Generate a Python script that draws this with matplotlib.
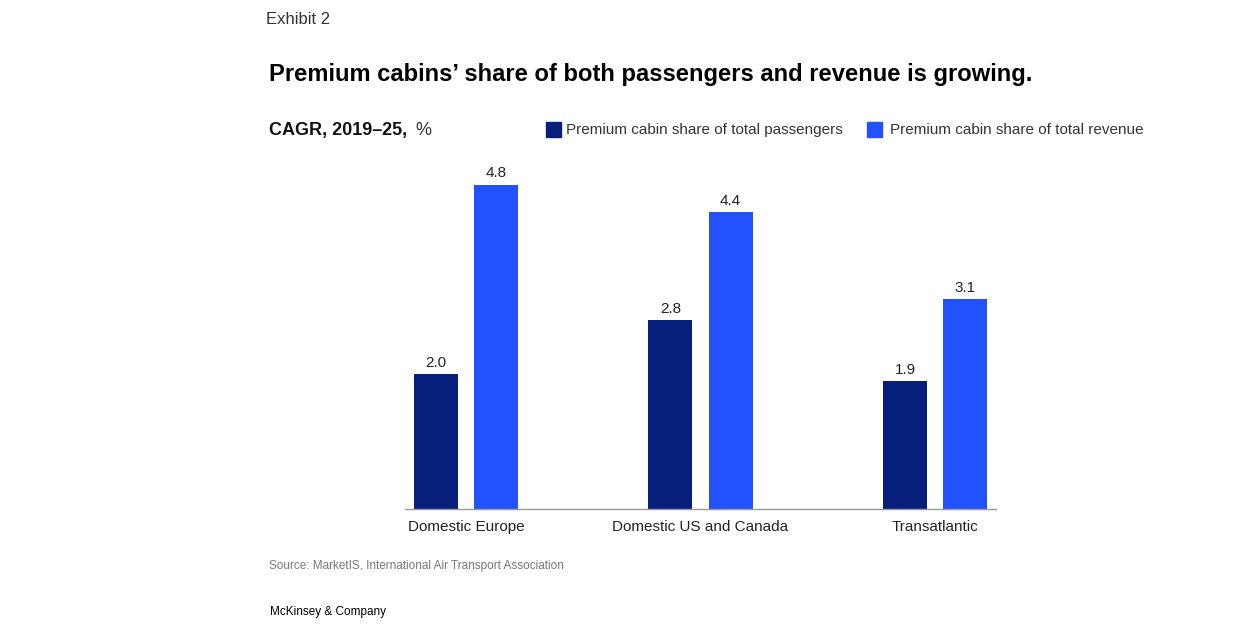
import matplotlib.pyplot as plt
import numpy as np

plt.rcParams['font.family'] = ['Liberation Sans', 'DejaVu Sans']

categories = ['Domestic Europe', 'Domestic US and Canada', 'Transatlantic']
passengers = [2.0, 2.8, 1.9]
revenue = [4.8, 4.4, 3.1]
labels = ['Premium cabin share of total passengers', 'Premium cabin share of total revenue']

navy = '#051f7a'
blue = '#2251ff'

W, H = 1244, 633
fig = plt.figure(figsize=(W / 100, H / 100), dpi=100)

# axes placed in pixel coordinates of the reference
left, right, top, bottom = 405, 996, 160, 509
ax = fig.add_axes([left / W, 1 - bottom / H, (right - left) / W, (bottom - top) / H])

x = np.arange(len(categories))
w = 0.1876
off = 0.128
b1 = ax.bar(x - off, passengers, w, color=navy)
b2 = ax.bar(x + off, revenue, w, color=blue)

for bars in (b1, b2):
    for r in bars:
        ax.text(r.get_x() + r.get_width() / 2, r.get_height() + 0.06, f'{r.get_height():.1f}',
                ha='center', va='bottom', fontsize=11, color='#222222')

ax.set_xlim(-0.26, 2.26)
ax.set_ylim(0, (bottom - top) / 67.6)
for s in ['top', 'right', 'left']:
    ax.spines[s].set_visible(False)
ax.spines['bottom'].set_color('#999999')
ax.spines['bottom'].set_linewidth(1)
ax.set_yticks([])
ax.set_xticks(x)
ax.set_xticklabels(categories, fontsize=11, color='#222222')
ax.tick_params(axis='x', length=0, pad=8)

# header texts
fig.text(266 / W, 1 - 20 / H, 'Exhibit 2', fontsize=12, color='#333333', va='center', ha='left')
fig.text(269 / W, 1 - 74 / H, 'Premium cabins\u2019 share of both passengers and revenue is growing.',
         fontsize=17.1, fontweight='bold', color='#000000', va='center', ha='left')
fig.text(269 / W, 1 - 130 / H, 'CAGR, 2019\u201325,', fontsize=13, fontweight='bold', color='#111111',
         va='center', ha='left')
fig.text(415 / W, 1 - 130 / H, '%', fontsize=13, color='#333333', va='center', ha='left')

# legend
for sx, tx, c, lab in [(546, 566, navy, labels[0]), (867, 890, blue, labels[1])]:
    fig.patches.append(plt.Rectangle((sx / W, 1 - 137 / H), 15 / W, 15 / H, transform=fig.transFigure,
                                     color=c, figure=fig))
    fig.text(tx / W, 1 - 130 / H, lab, fontsize=11, color='#333333', va='center', ha='left')

fig.text(269 / W, 1 - 566 / H, 'Source: MarketIS, International Air Transport Association',
         fontsize=8.5, color='#777777', va='center', ha='left')
fig.text(270 / W, 1 - 612 / H, 'McKinsey & Company', fontsize=8.5, color='#000000', va='center', ha='left')

fig.savefig('out.png', dpi=100, facecolor='white')
